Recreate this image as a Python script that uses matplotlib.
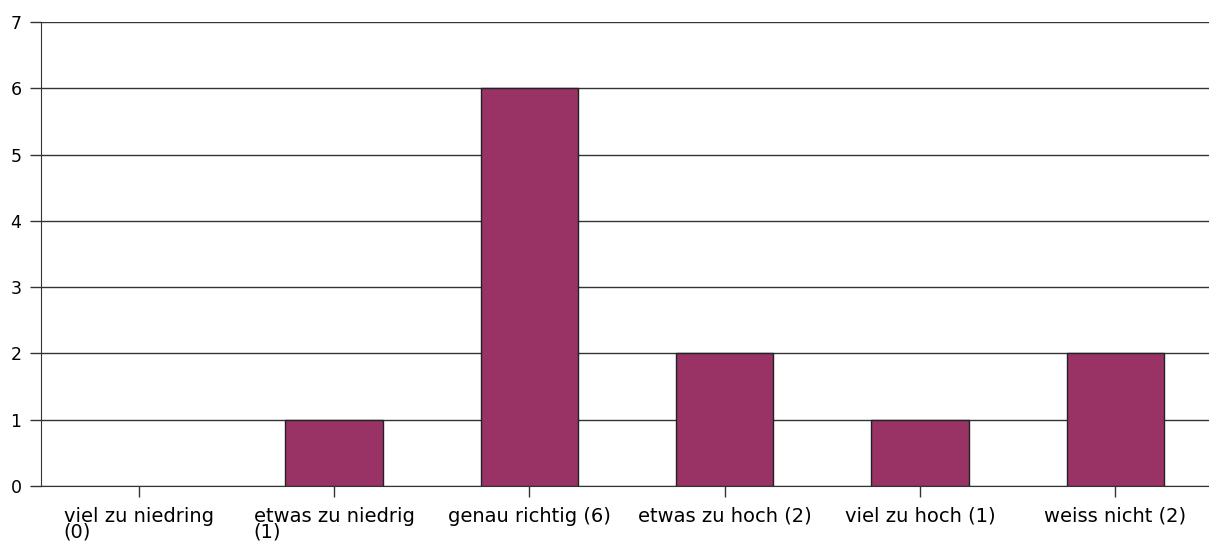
import numpy as np
import matplotlib.pyplot as plt

plt.rcParams['font.family'] = ['DejaVu Sans']

# answer categories and counts
labels = ["viel zu niedring\n(0)", "etwas zu niedrig\n(1)", "genau richtig (6)",
          "etwas zu hoch (2)", "viel zu hoch (1)", "weiss nicht (2)"]
counts = [0, 1, 6, 2, 1, 2]
y_ticks = [0, 1, 2, 3, 4, 5, 6, 7]

fig = plt.figure(figsize=(12.09, 5.45), dpi=100)
ax = fig.add_axes([41/1209, 1 - 486/545, 1172/1209, 464/545])

x = np.arange(len(counts))
ax.set_axisbelow(True)
ax.yaxis.grid(True, color="#333333", linewidth=1.0)
edges = ["#222222" if c > 0 else "none" for c in counts]
ax.bar(x, counts, width=0.5, color="#993366", edgecolor=edges, linewidth=1.0, zorder=3)

ax.set_xlim(-0.5, len(counts) - 0.5)
ax.set_ylim(0, 7)
ax.set_yticks(y_ticks)
ax.set_xticks(x)
ax.set_xticklabels(labels, fontsize=14, multialignment="left", linespacing=0.78)
ax.tick_params(axis="y", labelsize=12.5, length=8, width=1, color="#333333", pad=6)
ax.tick_params(axis="x", length=8, width=1, color="#333333", pad=7)

for s in ["top", "right"]:
    ax.spines[s].set_visible(False)
ax.spines["left"].set_color("#333333")
ax.spines["bottom"].set_color("#333333")

plt.savefig("out.png", dpi=100)
